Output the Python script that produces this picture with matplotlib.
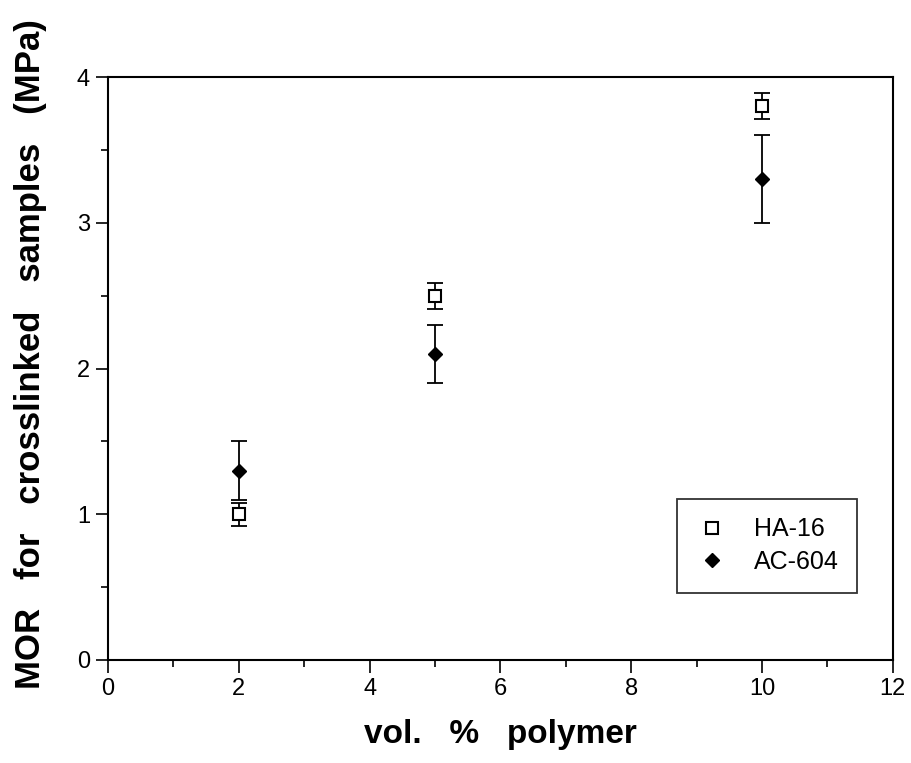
import matplotlib
matplotlib.use("Agg")
import matplotlib.pyplot as plt
from matplotlib.ticker import MultipleLocator

plt.rcParams['font.family'] = ['Liberation Sans', 'DejaVu Sans']

# polymer content (vol. %) and MOR of crosslinked samples (MPa)
vol_pct = [2, 5, 10]
ha16_mor = [1.0, 2.5, 3.8]
ha16_err = [0.08, 0.09, 0.09]
ac604_mor = [1.3, 2.1, 3.3]
ac604_err = [0.2, 0.2, 0.3]

fig = plt.figure(figsize=(9.11, 7.63), dpi=100)
ax = fig.add_axes([0.1186, 0.135, 0.8614, 0.764])

# error bars first, markers on top
ax.errorbar(vol_pct, ha16_mor, yerr=ha16_err, fmt='none', ecolor='black',
            elinewidth=1.3, capsize=6, capthick=1.3)
ax.errorbar(vol_pct, ac604_mor, yerr=ac604_err, fmt='none', ecolor='black',
            elinewidth=1.3, capsize=6, capthick=1.3)
ax.plot(vol_pct, ha16_mor, ls='none', marker='s', ms=8.5, mfc='white',
        mec='black', mew=1.5, label='HA-16', zorder=3)
ax.plot(vol_pct, ac604_mor, ls='none', marker='D', ms=7.5, mfc='black',
        mec='black', label='AC-604', zorder=3)

ax.set_xlim(0, 12)
ax.set_ylim(0, 4)
ax.xaxis.set_major_locator(MultipleLocator(2))
ax.xaxis.set_minor_locator(MultipleLocator(1))
ax.yaxis.set_major_locator(MultipleLocator(1))
ax.yaxis.set_minor_locator(MultipleLocator(0.5))
ax.tick_params(which='both', direction='out', top=False, right=False,
               width=1.2, labelsize=17, pad=4)
ax.tick_params(which='major', length=9)
ax.tick_params(which='minor', length=5)
for sp in ax.spines.values():
    sp.set_linewidth(1.5)

ax.set_xlabel('vol.   %   polymer', fontsize=24, fontweight='bold', labelpad=14)
ax.set_ylabel('MOR   for   crosslinked   samples   (MPa)', fontsize=25,
              fontweight='bold')
ax.yaxis.set_label_coords(-0.078, 0.525)

leg = ax.legend(loc='center', bbox_to_anchor=(0.84, 0.196), fontsize=18,
                frameon=True, fancybox=False, borderpad=0.75,
                handletextpad=1.0, labelspacing=0.35, handlelength=1.3,
                borderaxespad=0)
leg.get_frame().set_edgecolor('black')
leg.get_frame().set_linewidth(1.3)

fig.savefig('out.png', dpi=100)
